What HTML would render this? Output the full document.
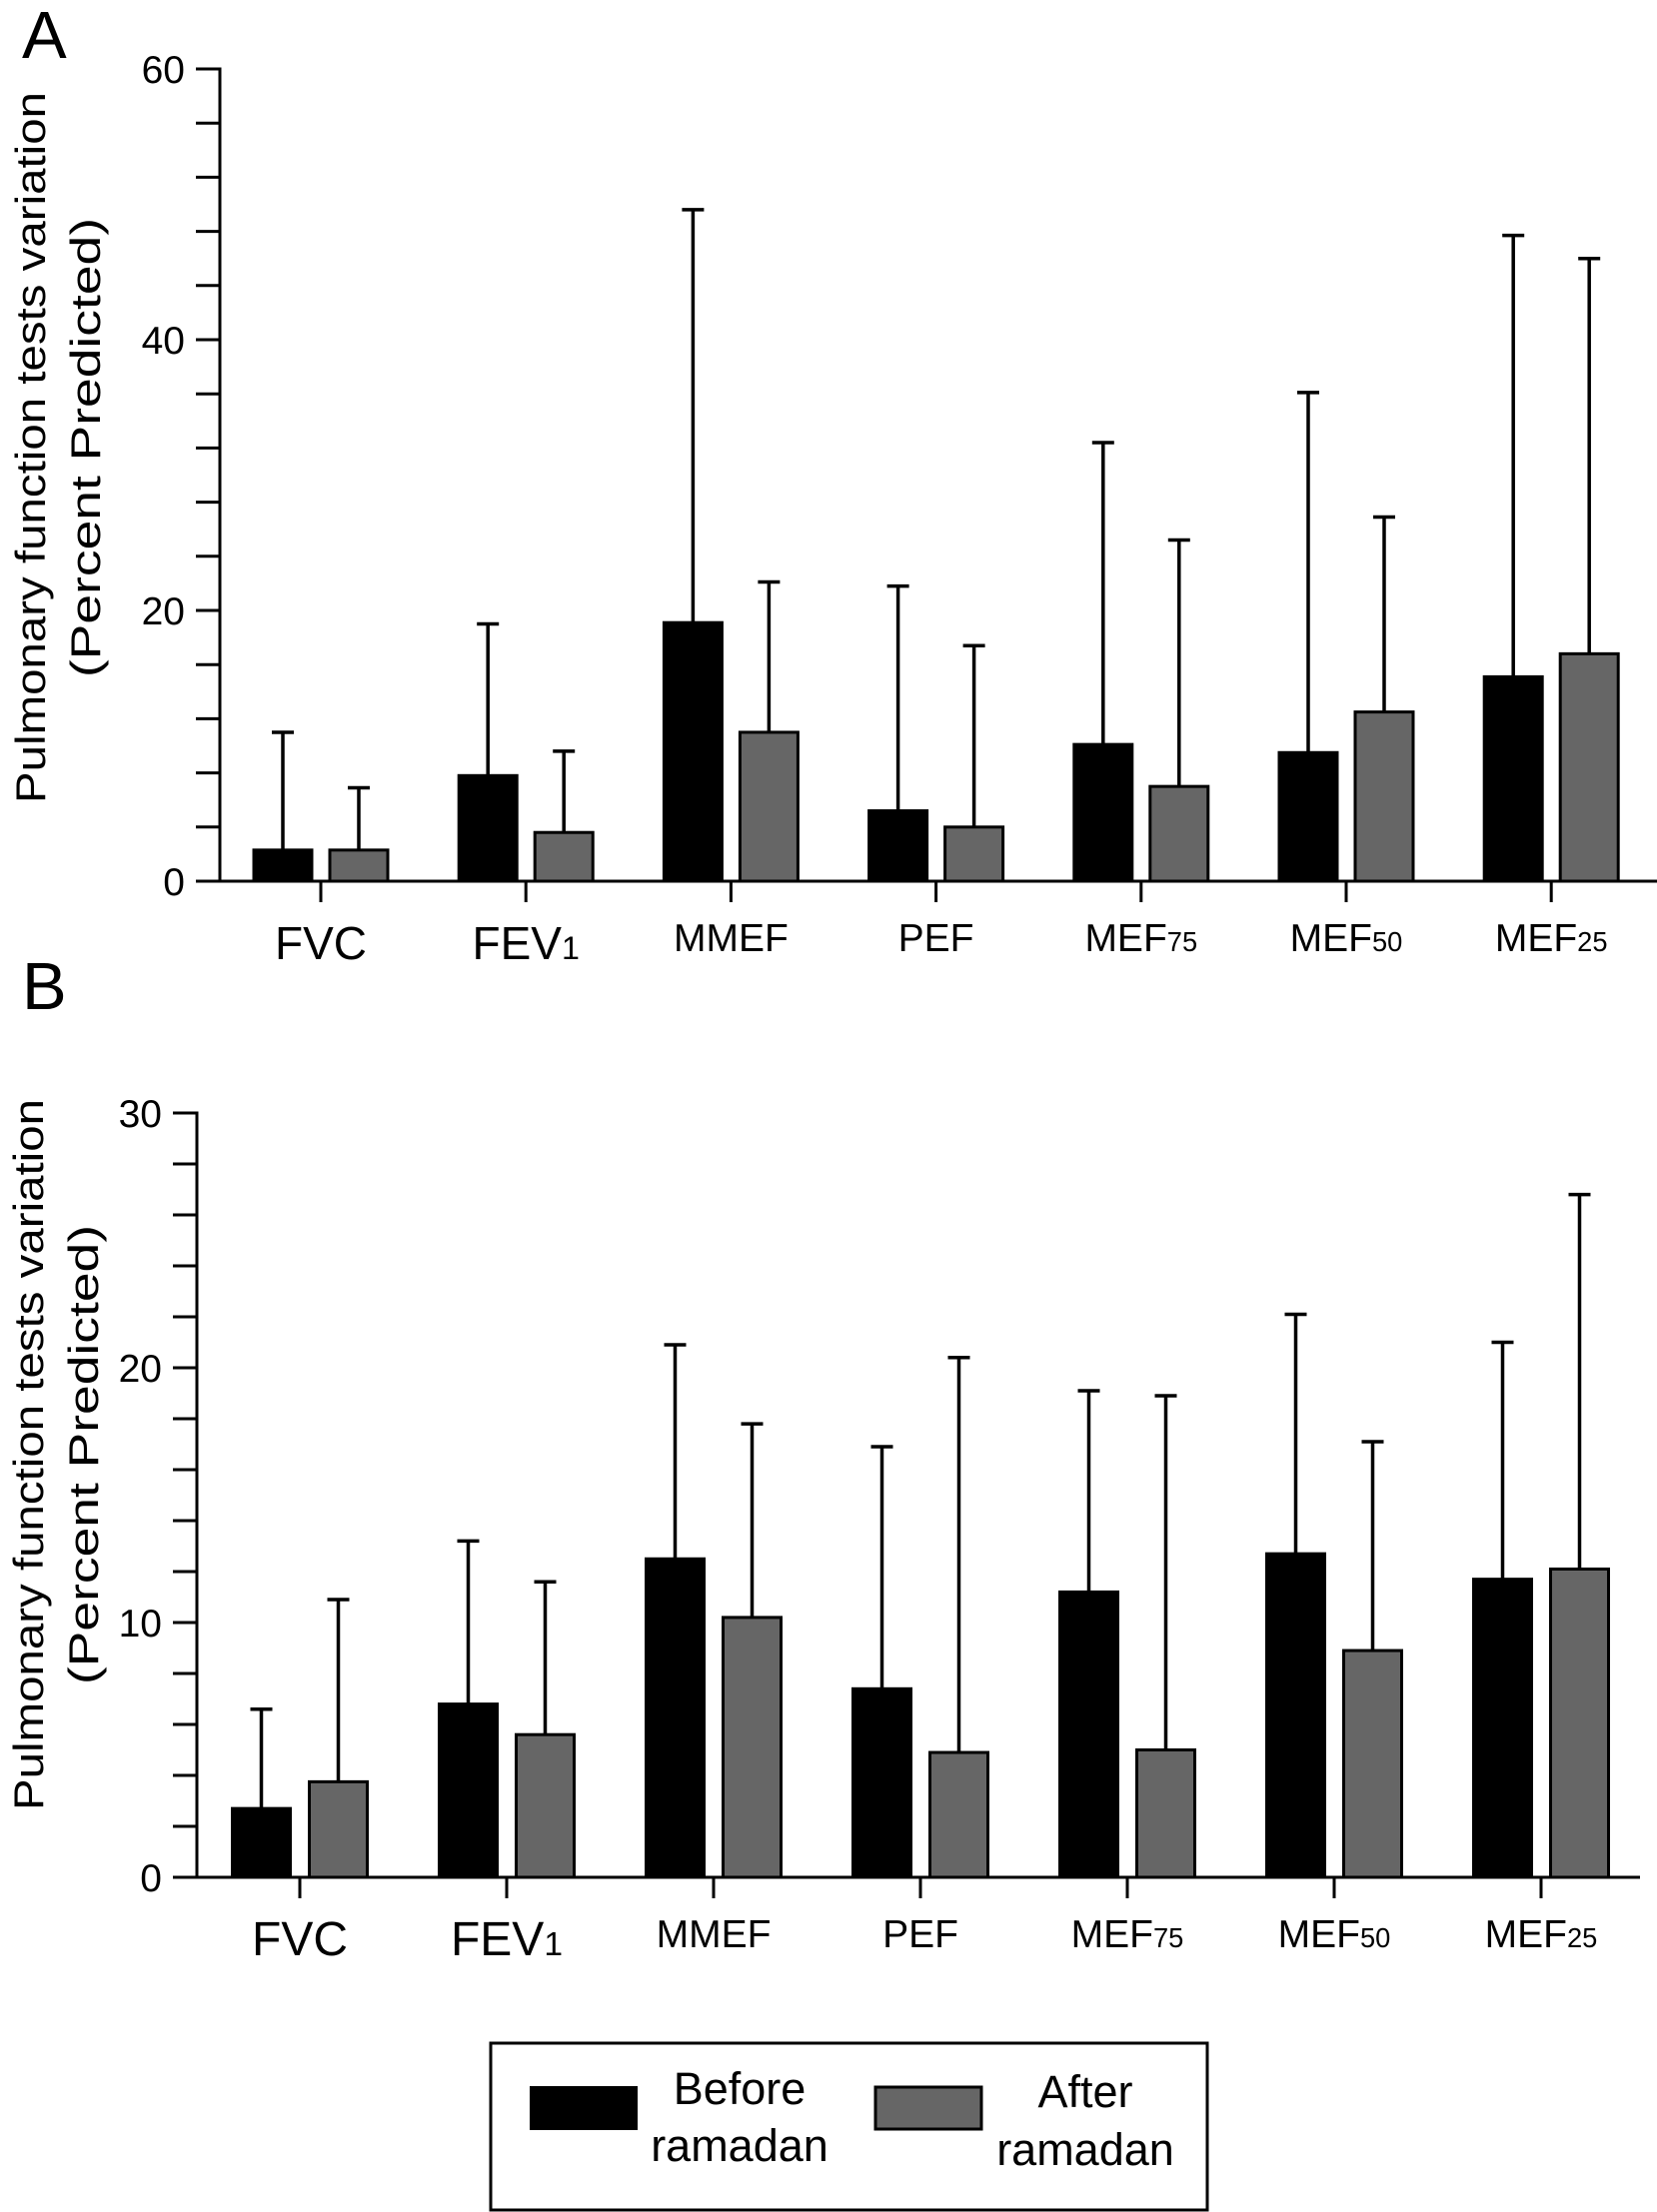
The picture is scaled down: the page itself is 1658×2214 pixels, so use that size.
<!DOCTYPE html>
<html><head><meta charset="utf-8"><style>
body{margin:0;background:#fff;}
svg{display:block;font-family:"Liberation Sans",Arial,sans-serif;}
</style></head><body>
<svg id="chart" width="1658" height="2214" viewBox="0 0 1658 2214" xmlns="http://www.w3.org/2000/svg">
<text x="22" y="58" font-size="67">A</text>
<text x="22" y="1010" font-size="67">B</text>
<g>
<rect x="491" y="2045" width="717" height="167" fill="#fff" stroke="#000" stroke-width="3"/>
<rect x="530" y="2088" width="108" height="44" fill="#000"/>
<text x="740" y="2106" font-size="45" text-anchor="middle">Before</text>
<text x="740" y="2163" font-size="45" text-anchor="middle">ramadan</text>
<rect x="876" y="2089" width="106" height="42" fill="#666" stroke="#000" stroke-width="3"/>
<text x="1086" y="2109" font-size="45" text-anchor="middle">After</text>
<text x="1086" y="2167" font-size="45" text-anchor="middle">ramadan</text>
</g>
</svg>
<script>
const categories = ["FVC","FEV","MMEF","PEF","MEF","MEF","MEF"];
const subscripts = ["","1","","","75","50","25"];
const bigLabel = [true,true,false,false,false,false,false];
const aBefore = [2.3,7.8,19.1,5.2,10.1,9.5,15.1];
const aBeforeErr = [11.0,19.0,49.6,21.8,32.4,36.1,47.7];
const aAfter = [2.3,3.6,11.0,4.0,7.0,12.5,16.8];
const aAfterErr = [6.9,9.6,22.1,17.4,25.2,26.9,46.0];
const aTicks = ["0","20","40","60"];
const bBefore = [2.7,6.8,12.5,7.4,11.2,12.7,11.7];
const bBeforeErr = [6.6,13.2,20.9,16.9,19.1,22.1,21.0];
const bAfter = [3.75,5.6,10.2,4.9,5.0,8.9,12.1];
const bAfterErr = [10.9,11.6,17.8,20.4,18.9,17.1,26.8];
const bTicks = ["0","10","20","30"];

const NS="http://www.w3.org/2000/svg";
const svg=document.getElementById('chart');
function mk(tag,attrs,parent){const e=document.createElementNS(NS,tag);for(const k in attrs)e.setAttribute(k,attrs[k]);(parent||svg).appendChild(e);return e;}

function panel(p){
  const g=mk('g',{});
  
  
  const ymax=+p.ticks[p.ticks.length-1];
  const y=v=>p.y0-(v/ymax)*(p.y0-p.y1);
  const x=i=>p.x0+i*p.step;
  const ya=mk('line',{x1:p.ax,y1:p.y1-1.5,x2:p.ax,y2:p.y0,stroke:'#000','stroke-width':3},g);
  
  
  const nMinor=(p.ticks.length-1)*5;
  for(let k=0;k<=nMinor;k++){
    const v=ymax*k/nMinor;
    const t=mk('line',{x1:p.ax-24,y1:y(v),x2:p.ax,y2:y(v),stroke:'#000','stroke-width':3},g);
    
    
  }
  p.ticks.forEach(s=>{
    const t=mk('text',{x:p.ax-35,y:y(+s)+14,'font-size':39,'text-anchor':'end'},g);
    t.textContent=s;
    
    
  });
  const xa=mk('line',{x1:p.ax-24,y1:p.y0,x2:p.xend,y2:p.y0,stroke:'#000','stroke-width':3},g);
  
  
  const tt=mk('text',{transform:`translate(${p.tx1},${p.tc}) rotate(-90)`,'font-size':42,'text-anchor':'middle',textLength:p.tlen1,lengthAdjust:'spacingAndGlyphs'},g);
  tt.textContent='Pulmonary function tests variation';
  
  
  const tt2=mk('text',{transform:`translate(${p.tx2},${p.tc}) rotate(-90)`,'font-size':42,'text-anchor':'middle',textLength:p.tlen2,lengthAdjust:'spacingAndGlyphs'},g);
  tt2.textContent='(Percent Predicted)';
  
  
  categories.forEach((c,i)=>{
    const cx=x(i);
    const tk=mk('line',{x1:cx,y1:p.y0,x2:cx,y2:p.y0+21,stroke:'#000','stroke-width':3},g);
    
    
    const fs=bigLabel[i]?p.bigFs:39;
    const lab=mk('text',{x:cx,y:p.y0+(bigLabel[i]?78:70),'font-size':fs,'text-anchor':'middle'},g);
    lab.appendChild(document.createTextNode(c));
    if(subscripts[i]){const ts=mk('tspan',{'font-size':fs*0.7},lab);ts.textContent=subscripts[i];}
    
    
    [[p.before[i],p.beforeErr[i],-p.off,'#000','bar-before'],[p.after[i],p.afterErr[i],p.off,'#666','bar-after']].forEach(([v,e,o,col,nm])=>{
      const bx=cx+o;
      const el=mk('line',{x1:bx,y1:y(e),x2:bx,y2:y(v),stroke:'#000','stroke-width':3.5},g);
      
      
      const cap=mk('line',{x1:bx-11,y1:y(e),x2:bx+11,y2:y(e),stroke:'#000','stroke-width':3.5},g);
      
      
      const r=mk('rect',{x:bx-29,y:y(v),width:58,height:p.y0-y(v),fill:col,stroke:'#000','stroke-width':3},g);
      
      
    });
  });
}
panel({name:'panel-a',ax:220,y0:882,y1:69,x0:321,step:205.2,xend:1658,off:38,ticks:aTicks,
  before:aBefore,beforeErr:aBeforeErr,after:aAfter,afterErr:aAfterErr,tx1:45,tx2:100,tc:448,tlen1:712,tlen2:460,bigFs:46});
panel({name:'panel-b',ax:197,y0:1879,y1:1114,x0:300,step:207,xend:1641,off:38.5,ticks:bTicks,
  before:bBefore,beforeErr:bBeforeErr,after:bAfter,afterErr:bAfterErr,tx1:43,tx2:98,tc:1456,tlen1:712,tlen2:460,bigFs:48});
</script>
</body></html>
